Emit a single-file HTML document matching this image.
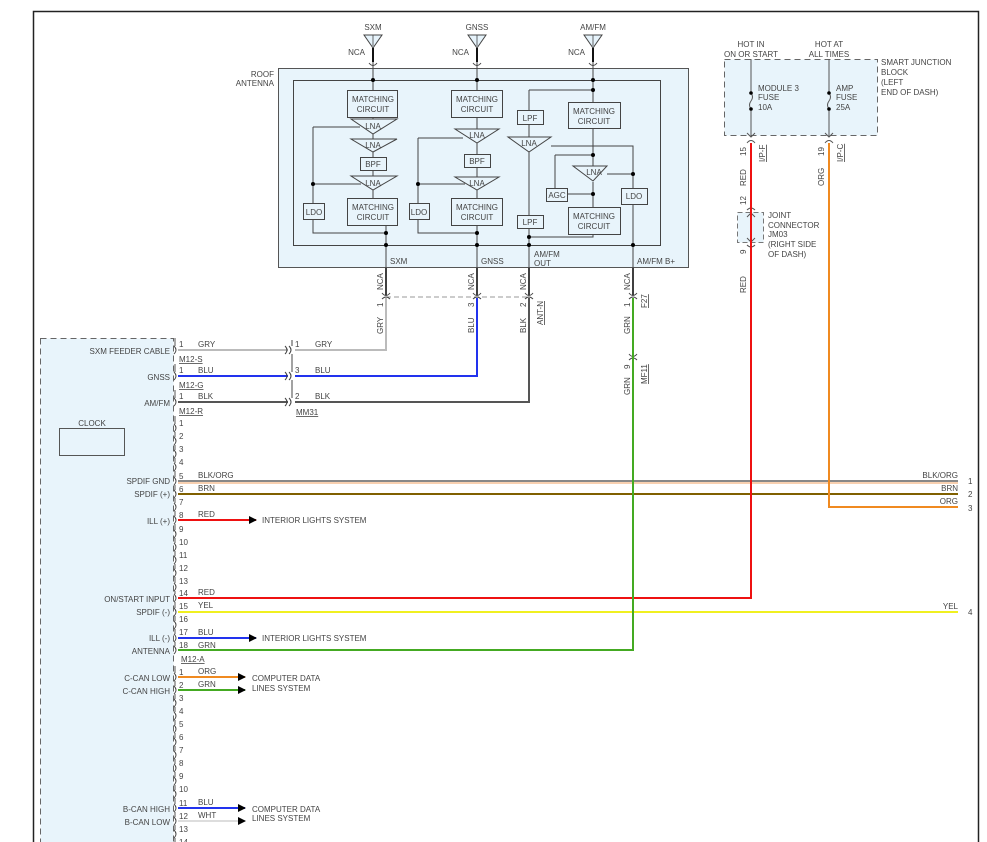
<!DOCTYPE html>
<html><head><meta charset="utf-8"><style>
html,body{margin:0;padding:0;background:#fff}
svg{display:block}
text{font-family:"Liberation Sans",sans-serif;font-size:8px;fill:#444}
</style></head><body>
<svg width="987" height="842" viewBox="0 0 987 842" xmlns="http://www.w3.org/2000/svg">
<defs>
<marker id="ar" markerWidth="8" markerHeight="8" refX="7" refY="4" orient="auto" markerUnits="userSpaceOnUse"><path d="M0,0L8,4L0,8z" fill="#000"/></marker>
</defs>
<!-- frame -->
<path d="M33.5,842V11.5H978.5V842" fill="none" stroke="#222" stroke-width="1.5"/>

<!-- antennas -->
<g stroke="#444" stroke-width="1" fill="#e6f3fb">
<path d="M364,35H382L373,48Z"/><path d="M468,35H486L477,48Z"/><path d="M584,35H602L593,48Z"/>
</g>
<g stroke="#444" stroke-width="0.8"><path d="M373,35V46M477,35V46M593,35V46"/></g>
<g stroke="#111" stroke-width="2"><path d="M373,48V62M477,48V62M593,48V62"/></g>
<text x="373" y="30" text-anchor="middle">SXM</text>
<text x="477" y="30" text-anchor="middle">GNSS</text>
<text x="593" y="30" text-anchor="middle">AM/FM</text>
<text x="365" y="55" text-anchor="end">NCA</text>
<text x="469" y="55" text-anchor="end">NCA</text>
<text x="585" y="55" text-anchor="end">NCA</text>

<!-- roof antenna box -->
<rect x="278.5" y="68.5" width="410" height="199" fill="#e8f4fb" stroke="#555"/>
<rect x="293.5" y="80.5" width="367" height="165" fill="none" stroke="#444"/>
<g fill="#fff" stroke="#444"><path d="M369,63q4,5 8,0M473,63q4,5 8,0M589,63q4,5 8,0"/></g>
<text x="274" y="77" text-anchor="end">ROOF</text>
<text x="274" y="86" text-anchor="end">ANTENNA</text>

<g stroke="#444" fill="none" stroke-width="1">
<!-- SXM column -->
<path d="M373,62V90M373,117V122M373,133V140M373,152V157M373,170V177M373,190V198"/>
<path d="M313,127H360M313,127V203M313,220V217M313,220V233H386M313,184H361M386,225V268M386,233V245"/>
<path d="M313,220V233"/>
<!-- GNSS column -->
<path d="M477,62V90M477,117V130M477,143V155M477,168V177M477,190V198"/>
<path d="M418,138H463M418,138V203M418,220V233H477M418,184H465M477,225V268"/>
<!-- AM/FM column -->
<path d="M593,62V102M529,90H593M529,90V113M529,124V137M529,152V215M529,228V268"/>
<path d="M593,128V166M551,146H633V188M633,204V268M607,174H633"/>
<path d="M555,155H593M555,155V188M567,194H593M593,182V207M593,234V237H529"/>
</g>
<g fill="#e8f4fb" stroke="#444">
<rect x="347.5" y="90.5" width="50" height="27"/><rect x="451.5" y="90.5" width="51" height="27"/>
<rect x="568.5" y="102.5" width="52" height="26"/>
<rect x="347.5" y="198.5" width="50" height="27"/><rect x="451.5" y="198.5" width="51" height="27"/>
<rect x="568.5" y="207.5" width="52" height="27"/>
<rect x="360.5" y="157.5" width="26" height="13"/><rect x="464.5" y="154.5" width="26" height="13"/>
<rect x="303.5" y="203.5" width="21" height="16"/><rect x="409.5" y="203.5" width="20" height="16"/>
<rect x="517.5" y="110.5" width="26" height="14"/><rect x="517.5" y="215.5" width="26" height="13"/>
<rect x="546.5" y="188.5" width="21" height="13"/><rect x="621.5" y="188.5" width="26" height="16"/>
<path d="M351,119H397L373,134Z"/><path d="M351,139H397L373,152Z"/><path d="M351,176H397L373,190Z"/>
<path d="M455,129H499L477,143Z"/><path d="M455,177H499L477,190Z"/>
<path d="M508,137H551L529,152Z"/><path d="M573,166H607L593,181Z"/>
</g>
<g text-anchor="middle">
<text x="373" y="102">MATCHING</text><text x="373" y="112">CIRCUIT</text>
<text x="477" y="102">MATCHING</text><text x="477" y="112">CIRCUIT</text>
<text x="594" y="114">MATCHING</text><text x="594" y="124">CIRCUIT</text>
<text x="373" y="210">MATCHING</text><text x="373" y="220">CIRCUIT</text>
<text x="477" y="210">MATCHING</text><text x="477" y="220">CIRCUIT</text>
<text x="594" y="219">MATCHING</text><text x="594" y="229">CIRCUIT</text>
<text x="373" y="129">LNA</text><text x="373" y="148">LNA</text><text x="373" y="186">LNA</text>
<text x="477" y="138">LNA</text><text x="477" y="186">LNA</text>
<text x="529" y="146">LNA</text><text x="594" y="175">LNA</text>
<text x="373" y="167">BPF</text><text x="477" y="164">BPF</text>
<text x="314" y="215">LDO</text><text x="419" y="215">LDO</text>
<text x="530" y="121">LPF</text><text x="530" y="225">LPF</text>
<text x="557" y="198">AGC</text><text x="634" y="199">LDO</text>
</g>
<g fill="#000">
<circle cx="373" cy="80" r="2"/><circle cx="477" cy="80" r="2"/><circle cx="593" cy="80" r="2"/><circle cx="593" cy="90" r="2"/>
<circle cx="313" cy="184" r="2"/><circle cx="418" cy="184" r="2"/>
<circle cx="386" cy="233" r="2"/><circle cx="477" cy="233" r="2"/><circle cx="529" cy="237" r="2"/>
<circle cx="386" cy="245" r="2"/><circle cx="477" cy="245" r="2"/><circle cx="529" cy="245" r="2"/><circle cx="633" cy="245" r="2"/>
<circle cx="593" cy="155" r="2"/><circle cx="593" cy="194" r="2"/><circle cx="633" cy="174" r="2"/>
</g>
<text x="390" y="264">SXM</text><text x="481" y="264">GNSS</text>
<text x="534" y="257">AM/FM</text><text x="534" y="266">OUT</text><text x="637" y="264">AM/FM B+</text>

<!-- outputs below box -->
<g stroke="#111" stroke-width="1.6"><path d="M386,268V295M477,268V295M529,268V295M633,268V295"/></g>
<path d="M386,297H529" stroke="#999" stroke-dasharray="5,3" fill="none"/>
<g fill="none" stroke="#444"><path d="M382,293q4,5 8,0M382,299q4,-4 8,0M473,293q4,5 8,0M473,299q4,-4 8,0M525,293q4,5 8,0M525,299q4,-4 8,0M629,293q4,5 8,0M629,299q4,-4 8,0M629,354q4,5 8,0M629,360q4,-4 8,0"/></g>
<g font-size="8">
<text transform="translate(383,290) rotate(-90)">NCA</text>
<text transform="translate(474,290) rotate(-90)">NCA</text>
<text transform="translate(526,290) rotate(-90)">NCA</text>
<text transform="translate(630,290) rotate(-90)">NCA</text>
<text transform="translate(383,307) rotate(-90)">1</text>
<text transform="translate(474,307) rotate(-90)">3</text>
<text transform="translate(526,307) rotate(-90)">2</text>
<text transform="translate(630,307) rotate(-90)">1</text>
<text transform="translate(383,334) rotate(-90)">GRY</text>
<text transform="translate(474,333) rotate(-90)">BLU</text>
<text transform="translate(526,333) rotate(-90)">BLK</text>
<text transform="translate(630,334) rotate(-90)">GRN</text>
<text transform="translate(630,369) rotate(-90)">9</text>
<text transform="translate(630,395) rotate(-90)">GRN</text>
<text transform="translate(543,325) rotate(-90)" text-decoration="underline">ANT-N</text>
<text transform="translate(647,308) rotate(-90)" text-decoration="underline">F27</text>
<text transform="translate(647,384) rotate(-90)" text-decoration="underline">MF11</text>
</g>

<!-- Smart junction block -->
<rect x="724.5" y="59.5" width="153" height="76" fill="#e8f4fb" stroke="#666" stroke-dasharray="6,4"/>
<text x="751" y="47" text-anchor="middle">HOT IN</text><text x="751" y="57" text-anchor="middle">ON OR START</text>
<text x="829" y="47" text-anchor="middle">HOT AT</text><text x="829" y="57" text-anchor="middle">ALL TIMES</text>
<text x="881" y="65">SMART JUNCTION</text><text x="881" y="75">BLOCK</text><text x="881" y="85">(LEFT</text><text x="881" y="95">END OF DASH)</text>
<text x="758" y="91">MODULE 3</text><text x="758" y="100">FUSE</text><text x="758" y="110">10A</text>
<text x="836" y="91">AMP</text><text x="836" y="100">FUSE</text><text x="836" y="110">25A</text>
<g stroke="#555" fill="none"><path d="M751,59V93M751,109V137M829,59V93M829,109V137M751,93q3,4 0,8q-3,4 0,8M829,93q3,4 0,8q-3,4 0,8M747,133l4,4l4,-4M825,133l4,4l4,-4M747,143q4,-5 8,0M825,143q4,-5 8,0"/></g>
<g fill="#000"><circle cx="751" cy="93" r="1.8"/><circle cx="751" cy="109" r="1.8"/><circle cx="829" cy="93" r="1.8"/><circle cx="829" cy="109" r="1.8"/></g>
<text transform="translate(746,156) rotate(-90)">15</text>
<text transform="translate(824,156) rotate(-90)">19</text>
<text transform="translate(765,162) rotate(-90)" text-decoration="underline">I/P-F</text>
<text transform="translate(843,162) rotate(-90)" text-decoration="underline">I/P-C</text>
<text transform="translate(746,186) rotate(-90)">RED</text>
<text transform="translate(824,186) rotate(-90)">ORG</text>
<text transform="translate(746,205) rotate(-90)">12</text>
<text transform="translate(746,254) rotate(-90)">9</text>
<text transform="translate(746,293) rotate(-90)">RED</text>
<rect x="737.5" y="212.5" width="26" height="30" fill="#e8f4fb" stroke="#777" stroke-dasharray="5,3"/>
<g stroke="#555" fill="none"><path d="M751,214V241M747,217l4,-4l4,4M747,238l4,4l4,-4M747,210q4,-4 8,0M747,245q4,4 8,0"/></g>
<text x="768" y="218">JOINT</text><text x="768" y="228">CONNECTOR</text><text x="768" y="237">JM03</text><text x="768" y="247">(RIGHT SIDE</text><text x="768" y="257">OF DASH)</text>

<!-- left component -->
<rect x="40.5" y="338.5" width="133" height="520" fill="#e8f4fb" stroke="#666" stroke-dasharray="6,4"/>
<rect x="59.5" y="428.5" width="65" height="27" fill="#e8f4fb" stroke="#555"/>
<text x="92" y="426" text-anchor="middle">CLOCK</text>

<!-- wires -->
<g fill="none" stroke-width="2">
<path d="M178,350H288M295,350H386V298" stroke="#bbb"/>
<path d="M178,376H288M295,376H477V298" stroke="#2233ee"/>
<path d="M178,402H288M295,402H529V298" stroke="#555"/>
<path d="M178,481H958" stroke="#888"/>
<path d="M178,483H958" stroke="#f0a060" stroke-width="1"/>
<path d="M178,494H958" stroke="#806000"/>
<path d="M829,143V507H958" stroke="#f08a20"/>
<path d="M178,520H256" stroke="#ee1111" marker-end="url(#ar)"/>
<path d="M751,143V598H178" stroke="#ee1111"/>
<path d="M178,612H958" stroke="#f0f020"/>
<path d="M178,638H256" stroke="#2233ee" marker-end="url(#ar)"/>
<path d="M633,298V650H178" stroke="#44aa22"/>
<path d="M178,677H245" stroke="#f08a20" marker-end="url(#ar)"/>
<path d="M178,690H245" stroke="#44aa22" marker-end="url(#ar)"/>
<path d="M178,808H245" stroke="#2233ee" marker-end="url(#ar)"/>
<path d="M178,821H245" stroke="#ddd" marker-end="url(#ar)"/>
</g>
<!-- inline connector MM31 -->
<g fill="none" stroke="#444"><path d="M285,346q4,4 0,8M289,346q4,4 0,8M285,372q4,4 0,8M289,372q4,4 0,8M285,398q4,4 0,8M289,398q4,4 0,8M292,340V346M292,354V372M292,380V398"/></g>
<text x="295" y="347">1</text><text x="315" y="347">GRY</text>
<text x="295" y="373">3</text><text x="315" y="373">BLU</text>
<text x="295" y="399">2</text><text x="315" y="399">BLK</text>
<text x="296" y="415" text-decoration="underline">MM31</text>

<!-- left pins -->
<g fill="none" stroke="#444" stroke-width="0.9">
<path d="M174,346q4,4 0,8M174,372q4,4 0,8M174,398q4,4 0,8M175,338V346M175,364V372M175,390V398"/>
<path id="pins"
d="M174,424q4,4 0,8M174,437q4,4 0,8M174,450q4,4 0,8M174,463q4,4 0,8M174,477q4,4 0,8M174,490q4,4 0,8M174,503q4,4 0,8M174,516q4,4 0,8M174,530q4,4 0,8M174,543q4,4 0,8M174,556q4,4 0,8M174,569q4,4 0,8M174,583q4,4 0,8M174,594q4,4 0,8M174,608q4,4 0,8M174,621q4,4 0,8M174,634q4,4 0,8M174,646q4,4 0,8
M174,673q4,4 0,8M174,686q4,4 0,8M174,699q4,4 0,8M174,712q4,4 0,8M174,725q4,4 0,8M174,738q4,4 0,8M174,751q4,4 0,8M174,764q4,4 0,8M174,777q4,4 0,8M174,790q4,4 0,8M174,804q4,4 0,8M174,817q4,4 0,8M174,830q4,4 0,8M174,843q4,4 0,8"/>
<path d="M175,416V424M175,432V437M175,445V450M175,458V463M175,471V477M175,485V490M175,498V503M175,511V516M175,524V530M175,538V543M175,551V556M175,564V569M175,577V583M175,591V594M175,602V608M175,616V621M175,629V634M175,642V646M175,666V673M175,681V686M175,694V699M175,707V712M175,720V725M175,733V738M175,746V751M175,759V764M175,772V777M175,785V790M175,798V804M175,812V817M175,825V830M175,838V843"/>
</g>
<g>
<text x="179" y="347">1</text><text x="198" y="347">GRY</text>
<text x="179" y="373">1</text><text x="198" y="373">BLU</text>
<text x="179" y="399">1</text><text x="198" y="399">BLK</text>
<text x="179" y="362" text-decoration="underline">M12-S</text>
<text x="179" y="388" text-decoration="underline">M12-G</text>
<text x="179" y="414" text-decoration="underline">M12-R</text>
<text x="170" y="354" text-anchor="end">SXM FEEDER CABLE</text>
<text x="170" y="380" text-anchor="end">GNSS</text>
<text x="170" y="406" text-anchor="end">AM/FM</text>

<text x="179" y="426">1</text><text x="179" y="439">2</text><text x="179" y="452">3</text><text x="179" y="465">4</text>
<text x="179" y="479">5</text><text x="179" y="492">6</text><text x="179" y="505">7</text><text x="179" y="518">8</text>
<text x="179" y="532">9</text><text x="179" y="545">10</text><text x="179" y="558">11</text><text x="179" y="571">12</text>
<text x="179" y="584">13</text><text x="179" y="596">14</text><text x="179" y="609">15</text><text x="179" y="622">16</text>
<text x="179" y="635">17</text><text x="179" y="648">18</text>
<text x="198" y="478">BLK/ORG</text><text x="198" y="491">BRN</text><text x="198" y="517">RED</text>
<text x="198" y="595">RED</text><text x="198" y="608">YEL</text><text x="198" y="635">BLU</text><text x="198" y="648">GRN</text>
<text x="170" y="484" text-anchor="end">SPDIF GND</text>
<text x="170" y="497" text-anchor="end">SPDIF (+)</text>
<text x="170" y="524" text-anchor="end">ILL (+)</text>
<text x="170" y="602" text-anchor="end">ON/START INPUT</text>
<text x="170" y="615" text-anchor="end">SPDIF (-)</text>
<text x="170" y="641" text-anchor="end">ILL (-)</text>
<text x="170" y="654" text-anchor="end">ANTENNA</text>
<text x="262" y="523">INTERIOR LIGHTS SYSTEM</text>
<text x="262" y="641">INTERIOR LIGHTS SYSTEM</text>

<text x="181" y="662" text-decoration="underline">M12-A</text>
<text x="179" y="675">1</text><text x="179" y="688">2</text><text x="179" y="701">3</text><text x="179" y="714">4</text>
<text x="179" y="727">5</text><text x="179" y="740">6</text><text x="179" y="753">7</text><text x="179" y="766">8</text>
<text x="179" y="779">9</text><text x="179" y="792">10</text><text x="179" y="806">11</text><text x="179" y="819">12</text>
<text x="179" y="832">13</text><text x="179" y="845">14</text>
<text x="198" y="674">ORG</text><text x="198" y="687">GRN</text><text x="198" y="805">BLU</text><text x="198" y="818">WHT</text>
<text x="170" y="681" text-anchor="end">C-CAN LOW</text>
<text x="170" y="694" text-anchor="end">C-CAN HIGH</text>
<text x="170" y="812" text-anchor="end">B-CAN HIGH</text>
<text x="170" y="825" text-anchor="end">B-CAN LOW</text>
<text x="252" y="681">COMPUTER DATA</text><text x="252" y="691">LINES SYSTEM</text>
<text x="252" y="812">COMPUTER DATA</text><text x="252" y="821">LINES SYSTEM</text>

<text x="958" y="478" text-anchor="end">BLK/ORG</text>
<text x="958" y="491" text-anchor="end">BRN</text>
<text x="958" y="504" text-anchor="end">ORG</text>
<text x="958" y="609" text-anchor="end">YEL</text>
<text x="968" y="484">1</text><text x="968" y="497">2</text><text x="968" y="511">3</text><text x="968" y="615">4</text>
</g>
</svg>
</body></html>
